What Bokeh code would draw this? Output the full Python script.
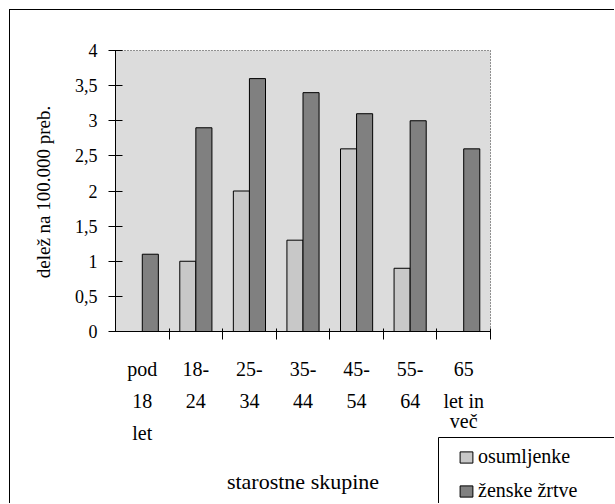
import math
from bokeh.plotting import figure
from bokeh.models import (Range1d, FixedTicker, LabelSet, Label, ColumnDataSource,
                          Legend, LegendItem, LinearAxis, BoxAnnotation)
from bokeh.core.properties import value
from bokeh.embed import file_html
from bokeh.resources import INLINE

# ---------------- data ----------------
categories = ["pod 18 let", "18-24", "25-34", "35-44", "45-54", "55-64", "65 let in več"]
# tick label rows (a row may wrap onto a second line with "\n")
x_tick_rows = [["pod", "18", "let"], ["18-", "24"], ["25-", "34"], ["35-", "44"],
               ["45-", "54"], ["55-", "64"], ["65", "let in\nveč"]]
nan = float("nan")
osumljenke = [nan, 1.0, 2.0, 1.3, 2.6, 0.9, nan]
zenske_zrtve = [1.1, 2.9, 3.6, 3.4, 3.1, 3.0, 2.6]
series_names = ["osumljenke", "ženske žrtve"]
y_ticks = [0, 0.5, 1, 1.5, 2, 2.5, 3, 3.5, 4]
y_tick_labels = ["0", "0,5", "1", "1,5", "2", "2,5", "3", "3,5", "4"]
y_title = "delež na 100.000 preb."
x_title = "starostne skupine"

# ---------------- layout constants (pixels) ----------------
FONT = "Liberation Serif"
W, H = 605, 494            # canvas size (figure placed with a 9px margin + 1px border)
AREA_L, AREA_T = 105, 40   # top-left of the plotting area inside the canvas
AREA_W, AREA_H = 375, 281  # pixel size of the plotting area (0..n x 0..ymax)
Y_MAX = 4

n = len(categories)
centers = [i + 0.5 for i in range(n)]
bar_w = 0.3

px_x = AREA_W / n
px_y = AREA_H / Y_MAX
x_start = -AREA_L / px_x
x_end = (W - AREA_L) / px_x
y_end = Y_MAX + AREA_T / px_y
y_start = Y_MAX - (H - AREA_T) / px_y

p = figure(width=W, height=H, output_backend="svg", toolbar_location=None,
           x_range=Range1d(x_start, x_end), y_range=Range1d(y_start, y_end),
           x_axis_location=None, y_axis_location=None)
p.margin = (9, 0, 0, 9)
p.styles = {"border-left": "1px solid black", "border-top": "1px solid black"}
p.min_border = 0
p.background_fill_color = "white"
p.border_fill_color = "white"
p.outline_line_color = None
p.xgrid.visible = False
p.ygrid.visible = False

# plotting-area background with dotted frame
p.quad(left=0, right=n, bottom=0, top=Y_MAX, fill_color="#dcdcdc",
       line_color="#333333", line_dash="1 2", line_width=1)

src = ColumnDataSource(dict(
    xs=[c - bar_w / 2 for c in centers],
    xv=[c + bar_w / 2 for c in centers],
    s=osumljenke, v=zenske_zrtve))
r1 = p.vbar(x="xs", top="s", bottom=0, width=bar_w, source=src,
            fill_color="#c8c8c8", line_color="black", line_width=1)
r2 = p.vbar(x="xv", top="v", bottom=0, width=bar_w, source=src,
            fill_color="#808080", line_color="black", line_width=1)

# y axis at x = 0
ya = LinearAxis(fixed_location=0, bounds=(0, Y_MAX), ticker=FixedTicker(ticks=y_ticks))
ya.major_label_overrides = {t: l for t, l in zip(y_ticks, y_tick_labels)}
ya.major_label_text_font = FONT
ya.major_label_text_font_size = "18px"
ya.major_label_text_color = "black"
ya.major_tick_in = 7
ya.major_tick_out = 7
ya.minor_tick_in = 0
ya.minor_tick_out = 0
ya.major_label_standoff = 11
ya.axis_line_color = "black"
ya.major_tick_line_color = "black"
p.add_layout(ya, "left")

# x axis at y = 0, ticks at group boundaries
xa = LinearAxis(fixed_location=0, bounds=(0, n),
                ticker=FixedTicker(ticks=list(range(1, n + 1))))
xa.major_label_overrides = {i: "" for i in range(0, n + 1)}
xa.major_label_text_font_size = "1px"
xa.major_tick_in = 3
xa.major_tick_out = 8
xa.minor_tick_in = 0
xa.minor_tick_out = 0
xa.axis_line_color = "black"
xa.major_tick_line_color = "black"
p.add_layout(xa, "below")

# y axis title
p.add_layout(Label(x=0, y=Y_MAX / 2, x_offset=-72, y_offset=-1, text=y_title,
                   angle=math.pi / 2, text_font=FONT, text_font_size="19px",
                   text_align="center", text_baseline="middle", text_color="black"))

# category labels under the axis
lx, lt, lo = [], [], []
for c, rows in zip(centers, x_tick_rows):
    for ri, row in enumerate(rows):
        for li, line in enumerate(row.split("\n")):
            lx.append(c)
            lt.append(line)
            lo.append(-(44 + 32 * ri + 20 * li))
lab_src = ColumnDataSource(dict(x=lx, y=[0] * len(lx), text=lt, yo=lo))
p.add_layout(LabelSet(x="x", y="y", text="text", y_offset="yo", source=lab_src,
                      text_font=value(FONT), text_font_size=value("20px"),
                      text_align="center", text_baseline="alphabetic",
                      text_color="black"))

p.add_layout(Label(x=n / 2, y=0, y_offset=-150, text=x_title, text_font=FONT,
                   text_font_size="22px", text_align="center",
                   text_baseline="alphabetic", text_color="black"))

# legend box (border drawn separately so the swatches can sit further right)
LEG_LEFT, LEG_TOP = 323, 106   # px right of area-left / below the zero line
p.add_layout(BoxAnnotation(left=LEG_LEFT / px_x, right=x_end + 1,
                           top=-LEG_TOP / px_y, bottom=y_start - 1,
                           fill_color="white", fill_alpha=1,
                           line_color="black", line_width=1, line_alpha=1))

legend = Legend(items=[LegendItem(label=series_names[0], renderers=[r1]),
                       LegendItem(label=series_names[1], renderers=[r2])])
legend.label_text_font = FONT
legend.label_text_font_size = "20px"
legend.label_text_color = "black"
legend.border_line_color = None
legend.background_fill_alpha = 0
legend.padding = 7
legend.spacing = 11
legend.margin = 0
legend.glyph_width = 16
legend.glyph_height = 14
legend.label_height = 20
legend.label_standoff = 4
leg_h = 7 + 20 + 11 + 20 + 7
legend.location = (AREA_L + LEG_LEFT + 27 - 7,
                   (H - AREA_T) - (AREA_H + LEG_TOP) - leg_h)
p.add_layout(legend)

open("out.html", "w").write(file_html(p, INLINE))
